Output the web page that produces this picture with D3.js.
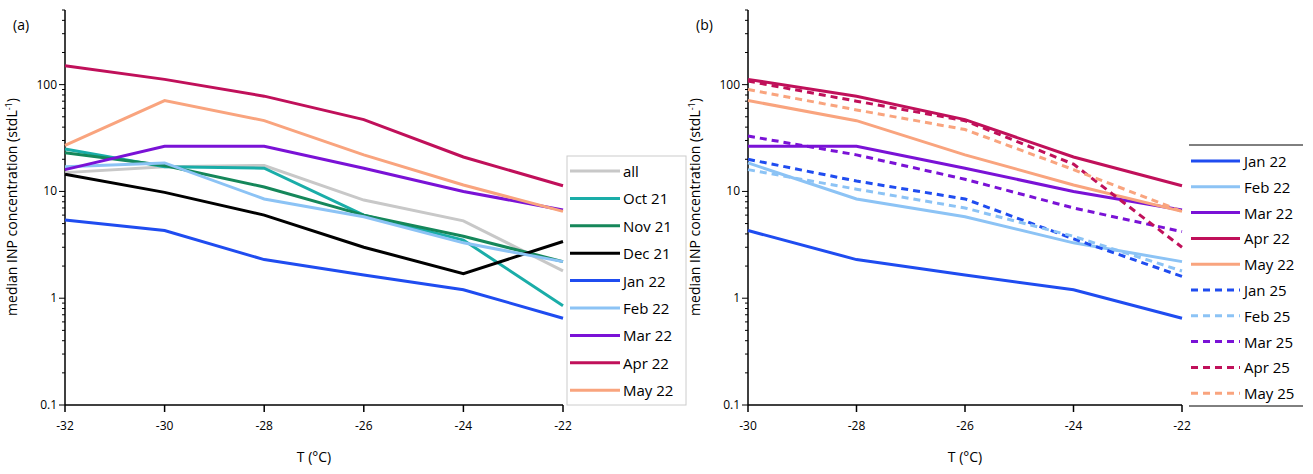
<!DOCTYPE html>
<html><head><meta charset="utf-8">
<script src="https://cdn.jsdelivr.net/npm/d3@7"></script>
<style>body{margin:0;background:#fff;font-family:"Open Sans",sans-serif}</style>
</head><body><svg id="c" width="1313" height="474"></svg>
<script>
const tempsA = [-32,-30,-28,-26,-24,-22];
const tempsB = [-30,-28,-26,-24,-22];
const namesA = ["all","Oct 21","Nov 21","Dec 21","Jan 22","Feb 22","Mar 22","Apr 22","May 22"];
const colorsA = ["#c8c8c8","#1aada8","#15875a","#000000","#1f4cf0","#8cc3f5","#7a12d6","#c0105a","#f9a47e"];
const all_ = [15,17,17.5,8.3,5.3,1.8];
const oct21 = [25,17,16.5,6,3.5,0.85];
const nov21 = [23,17.5,11,6,3.8,2.2];
const dec21 = [14.5,9.8,6,3,1.7,3.4];
const jan22 = [5.4,4.3,2.3,1.65,1.2,0.65];
const feb22 = [17,18.5,8.5,5.8,3.3,2.2];
const mar22 = [16,26.5,26.5,16.5,10,6.7];
const apr22 = [150,112,78,47,21,11.3];
const may22 = [27,71,46,22,11.5,6.5];
const jan25 = [20,12.5,8.5,3.6,1.6];
const feb25 = [16,10.5,7,3.8,1.8];
const mar25 = [33,22,13,7,4.2];
const apr25 = [108,70,46,18,3.0];
const may25 = [90,58,38,16,6.5];
const yTicks = [0.1,1,10,100];

const svg = d3.select("#c");
const seriesA = [all_,oct21,nov21,dec21,jan22,feb22,mar22,apr22,may22];
const namesB = ["Jan 22","Feb 22","Mar 22","Apr 22","May 22","Jan 25","Feb 25","Mar 25","Apr 25","May 25"];
const seriesB = [jan22.slice(1),feb22.slice(1),mar22.slice(1),apr22.slice(1),may22.slice(1),jan25,feb25,mar25,apr25,may25];
const colorsB = ["#1f4cf0","#8cc3f5","#7a12d6","#c0105a","#f9a47e","#1f4cf0","#8cc3f5","#7a12d6","#c0105a","#f9a47e"];
const dashB = [0,0,0,0,0,1,1,1,1,1];

function panel(x0,x1,temps,series,colors,dash,label){
  const x = d3.scaleLinear().domain([temps[0],-22]).range([x0,x1]);
  const y = d3.scaleLog().domain([0.1,500]).range([405,10]);
  const g = svg.append("g");
  const minor=[];
  for(let d=0.1;d<500;d*=10) for(let k=1;k<10;k++){const v=d*k; if(v<=500 && k>1) minor.push(v);}
  g.selectAll(".mn").data(minor).join("line").attr("x1",x0-3).attr("x2",x0).attr("y1",d=>y(d)).attr("y2",d=>y(d)).attr("stroke","#000");
  g.selectAll(".mj").data(yTicks).join("line").attr("x1",x0-6).attr("x2",x0).attr("y1",d=>y(d)).attr("y2",d=>y(d)).attr("stroke","#000");
  g.selectAll(".yl").data(yTicks).join("text").attr("x",x0-8).attr("y",d=>y(d)+4).attr("text-anchor","end").attr("font-size",12).text(d=>d);
  g.append("line").attr("x1",x0).attr("x2",x0).attr("y1",10).attr("y2",405).attr("stroke","#000").attr("stroke-width",1.5);
  g.append("line").attr("x1",x0).attr("x2",x1).attr("y1",405).attr("y2",405).attr("stroke","#000").attr("stroke-width",1.5);
  g.selectAll(".xt").data(temps).join("line").attr("x1",d=>x(d)).attr("x2",d=>x(d)).attr("y1",405).attr("y2",412).attr("stroke","#000").attr("stroke-width",1.5);
  g.selectAll(".xl").data(temps).join("text").attr("x",d=>x(d)).attr("y",430).attr("text-anchor","middle").attr("font-size",12).text(d=>"-"+Math.abs(d));
  g.append("text").attr("x",(x0+x1)/2).attr("y",462).attr("text-anchor","middle").attr("font-size",14).text("T (°C)");
  g.append("text").attr("transform",`translate(${x0-48},${207}) rotate(-90)`).attr("text-anchor","middle").attr("font-size",14)
    .html('median INP concentration (stdL<tspan dy="-5" font-size="9">-1</tspan><tspan dy="5">)</tspan>');
  g.append("text").attr("x",x0-52).attr("y",30).attr("font-size",14).text(label);
  const line = d3.line().x((d,i)=>x(temps[i])).y(d=>y(d));
  series.forEach((s,i)=>g.append("path").attr("d",line(s)).attr("fill","none").attr("stroke",colors[i]).attr("stroke-width",3)
    .attr("stroke-dasharray",dash&&dash[i]?"7,5":null));
  return g;
}
panel(65,563,tempsA,seriesA,colorsA,null,"(a)");
panel(748,1182,tempsB,seriesB,colorsB,dashB,"(b)");

const la = svg.append("g");
la.append("rect").attr("x",567).attr("y",156).attr("width",119).attr("height",249).attr("fill","#fff").attr("stroke","#ccc");
namesA.forEach((n,i)=>{const yy=171+i*27.4;
  la.append("line").attr("x1",570).attr("x2",620).attr("y1",yy).attr("y2",yy).attr("stroke",colorsA[i]).attr("stroke-width",3);
  la.append("text").attr("x",623).attr("y",yy+6).attr("font-size",15).text(n);});
const lb = svg.append("g");
lb.append("line").attr("x1",1189).attr("x2",1303).attr("y1",145).attr("y2",145).attr("stroke","#000");
lb.append("line").attr("x1",1189).attr("x2",1303).attr("y1",406).attr("y2",406).attr("stroke","#000");
namesB.forEach((n,i)=>{const yy=161+i*25.8;
  lb.append("line").attr("x1",1191).attr("x2",1240).attr("y1",yy).attr("y2",yy).attr("stroke",colorsB[i]).attr("stroke-width",3)
    .attr("stroke-dasharray",dashB[i]?"7,5":null);
  lb.append("text").attr("x",1244).attr("y",yy+6).attr("font-size",15).text(n);});
</script></body></html>
